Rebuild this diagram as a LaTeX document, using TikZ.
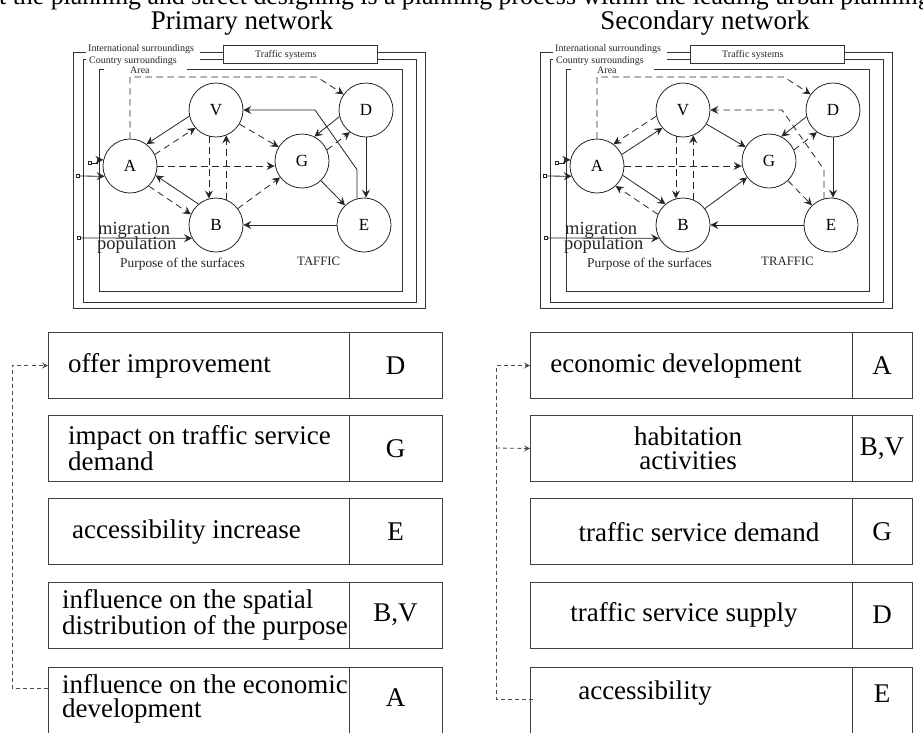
\documentclass[tikz,border=0pt]{standalone}
\usepackage{fontspec}
\setmainfont{Liberation Serif}
\usetikzlibrary{arrows.meta}
\newcommand\fsz[2]{\fontsize{#1}{#2}\selectfont}
\tikzset{
  >={Stealth[length=8pt,width=8pt,inset=3pt]},
  nd/.style={circle, draw=black!85, line width=0.8pt, minimum size=54pt, inner sep=0pt, font=\fsz{17}{17}},
  sol/.style={->, draw=black!85, line width=0.8pt},
  dsh/.style={->, draw=black!85, line width=0.8pt, dash pattern=on 6.5pt off 4.5pt},
  frm/.style={draw=black!80, line width=0.9pt},
  flab/.style={font=\fsz{10}{10}, inner sep=0pt, text=black!85, anchor=base west},
  sq/.style={draw=black!85, line width=0.6pt, minimum size=3pt, inner sep=0pt},
  cell/.style={draw=black!75, line width=1pt, minimum height=66pt, inner sep=0pt, anchor=north west},
  txt/.style={font=\fsz{27}{24}, inner sep=0pt},
  tdsh/.style={draw=black!70, line width=0.8pt, dash pattern=on 4pt off 3pt},
  tarr/.style={-{Stealth[length=6pt,width=6pt,inset=2.4pt]}}
}
\newcommand\netframe[3]{%
  \draw[frm] (86,52) -- (73,52) -- (73,308) -- (425,308) -- (425,52) -- (377,52);
  \draw[frm] (200,52) -- (223,52);
  \draw[frm] (86,59) -- (83,59) -- (83,302) -- (416,302) -- (416,59) -- (377,59);
  \draw[frm] (200,59) -- (223,59);
  \draw[frm] (104,69) -- (99,69) -- (99,291) -- (402,291) -- (402,69) -- (187,69);
  \node[frm, draw, minimum width=154pt, minimum height=18pt, inner sep=0pt, anchor=north west] (ts#1) at (223,45) {};
  \node[flab] (int#1) at (88,51) {International surroundings};
  \node[flab] (cty#1) at (89,63) {Country surroundings};
  \node[flab] (are#1) at (130,73) {Area};
  \node[flab] (tsl#1) at (255,57) {Traffic systems};
  \node[nd] (A#1) at (130,166) {A};
  \node[nd] (V#1) at (216,110) {V};
  \node[nd] (G#1) at (302,161) {G};
  \node[nd] (D#1) at (366,110) {D};
  \node[nd] (E#1) at (364,225) {E};
  \node[nd] (B#1) at (216,225) {B};
  \node[font=\fsz{18.5}{15}, inner sep=0pt, anchor=base west, text=black!85] (mig#1) at (98,234) {migration};
  \node[font=\fsz{18.5}{15}, inner sep=0pt, anchor=base west, text=black!85] (pop#1) at (97,249) {population};
  \node[font=\fsz{13.4}{14}, inner sep=0pt, anchor=base west, text=black!85] (pur#1) at (120,267) {Purpose of the surfaces};
  \node[font=\fsz{12.8}{13}, inner sep=0pt, anchor=base west, text=black!85] (taf#1) at (#2,265) {#3};
  \draw[dsh] (A#1.north) -- (130,77) -- (317,77) -- (D#1.145);
  \node[sq] (i1#1) at (90,163) {};
  \draw[sol] (i1#1) -- (97,163) |- (A#1.167);
  \node[sq] (i2#1) at (78,176) {};
  \draw[sol] (i2#1) -- (A#1.202);
  \node[sq] (i3#1) at (79,238) {};
  \draw[sol] (i3#1) -- (B#1.209);
  \draw[sol] (D#1.south) -- (D#1.south |- E#1.north);
  \draw[sol] (E#1.west) -- (B#1.east);
  \draw[dsh] (A#1.east) -- (A#1.east -| G#1.west);
  \draw[dsh] (V#1.255) -- (B#1.105);
  \draw[dsh] (B#1.68) -- (V#1.292);
  \draw[sol] (D#1.194) -- (G#1.63);
  \draw[dsh] (G#1.24) -- (D#1.234);
}
\begin{document}
\begin{tikzpicture}[x=1pt, y=-1pt]
  \fill[white] (0,0) rectangle (923,732);
  \useasboundingbox (0,0) rectangle (923,732);
  % header texts
  \node[inner sep=0pt, anchor=base west, font=\fsz{25.8}{26}] (toptext) at (-1,4) {t the planning and street designing is a planning process within the leading urban planning};
  \node[txt, anchor=base] (ttl1) at (242,29) {Primary network};
  \node[txt, anchor=base] (ttl2) at (705,29) {Secondary network};
  % primary network
  \netframe{l}{297}{TAFFIC}
  \draw[sol] (Vl.193) -- (Al.53);
  \draw[dsh] (Al.25) -- (Vl.221);
  \draw[dsh] (Vl.-31) -- (Gl.149);
  \draw[sol] (Bl.130) -- (Al.-20);
  \draw[dsh] (Al.-47) -- (Bl.157);
  \draw[dsh] (Bl.37) -- (Gl.217);
  \draw[sol] (Gl.-46) -- (El.134);
  \draw[sol] (El.105) -- ++(0,-29) -- (315,110) -- (Vl.east);
  % secondary network
  \begin{scope}[xshift=467pt]
  \netframe{r}{294}{TRAFFIC}
  \draw[dsh] (Vr.193) -- (Ar.53);
  \draw[sol] (Ar.25) -- (Vr.221);
  \draw[sol] (Vr.-31) -- (Gr.149);
  \draw[sol] (Ar.-20) -- (Br.130);
  \draw[dsh] (Br.157) -- (Ar.-47);
  \draw[sol] (Br.37) -- (Gr.217);
  \draw[dsh] (Gr.-46) -- (Er.134);
  \draw[dsh] (Er.105) -- ++(0,-29) -- (315,110) -- (Vr.east);
  \end{scope}
  % left table
  \node[cell, minimum width=301pt] (L1) at (48,332) {};
  \node[cell, minimum width=93pt] (L1r) at (349,332) {};
  \node[cell, minimum width=301pt] (L2) at (48,415) {};
  \node[cell, minimum width=93pt] (L2r) at (349,415) {};
  \node[cell, minimum width=301pt] (L3) at (48,498) {};
  \node[cell, minimum width=93pt] (L3r) at (349,498) {};
  \node[cell, minimum width=301pt] (L4) at (48,582) {};
  \node[cell, minimum width=93pt] (L4r) at (349,582) {};
  \node[cell, minimum width=301pt] (L5) at (48,667) {};
  \node[cell, minimum width=93pt] (L5r) at (349,667) {};
  \node[txt, anchor=west] (L1t) at (68,366) {offer improvement};
  \node[txt, anchor=west, align=left] (L2t) at (68,448) {impact on traffic service\\demand};
  \node[txt, anchor=west] (L3t) at (72,532) {accessibility increase};
  \node[txt, anchor=west, align=left] (L4t) at (62,615) {influence on the spatial\\distribution of the purpose};
  \node[txt, anchor=west, align=left] (L5t) at (62,699) {influence on the economic\\development};
  \node[txt] (L1c) at (395.5,366) {D};
  \node[txt] (L2c) at (395.5,449) {G};
  \node[txt] (L3c) at (395.5,532) {E};
  \node[txt] (L4c) at (395.5,615) {B,V};
  \node[txt] (L5c) at (395.5,698) {A};
  \draw[tdsh, tarr] (L5.west |- 0,688) -- (12,688) |- (L1.west);
  % right table
  \node[cell, minimum width=322pt] (R1) at (530,332) {};
  \node[cell, minimum width=60pt] (R1r) at (852,332) {};
  \node[cell, minimum width=322pt] (R2) at (530,415) {};
  \node[cell, minimum width=60pt] (R2r) at (852,415) {};
  \node[cell, minimum width=322pt] (R3) at (530,498) {};
  \node[cell, minimum width=60pt] (R3r) at (852,498) {};
  \node[cell, minimum width=322pt] (R4) at (530,582) {};
  \node[cell, minimum width=60pt] (R4r) at (852,582) {};
  \node[cell, minimum width=322pt] (R5) at (530,667) {};
  \node[cell, minimum width=60pt] (R5r) at (852,667) {};
  \node[txt] (R1t) at (676,366) {economic development};
  \node[txt, align=center] (R2t) at (688,448) {habitation\\activities};
  \node[txt] (R3t) at (699,532) {traffic service demand};
  \node[txt] (R4t) at (684,615) {traffic service supply};
  \node[txt] (R5t) at (645,693) {accessibility};
  \node[txt] (R1c) at (882,366) {A};
  \node[txt] (R2c) at (882,449) {B,V};
  \node[txt] (R3c) at (882,532) {G};
  \node[txt] (R4c) at (882,615) {D};
  \node[txt] (R5c) at (882,694) {E};
  \draw[tdsh, tarr] (R5.west |- 0,699) ++(3,0) -- (496,699) |- (R1.west);
  \draw[tdsh, tarr] (496,448) -- (R2.west);
\end{tikzpicture}
\end{document}
